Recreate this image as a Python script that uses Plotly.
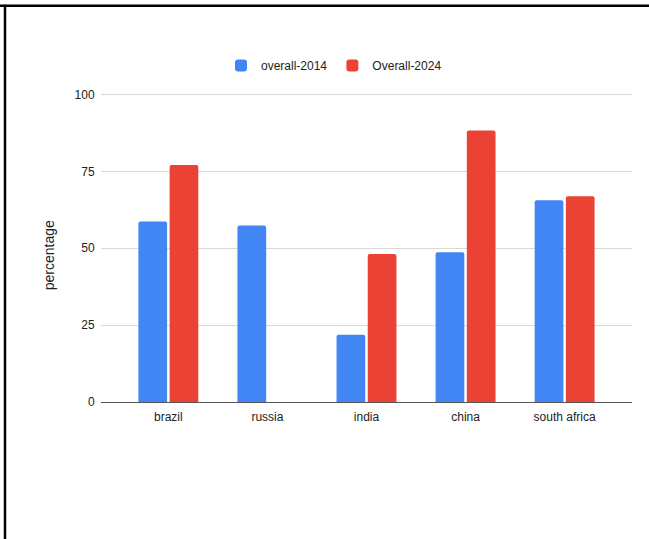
import plotly.graph_objects as go

# Categories and series values (percent)
countries = ["brazil", "russia", "india", "china", "south africa"]
overall_2014 = [58.7, 57.4, 21.9, 48.7, 65.6]
overall_2024 = [77.1, None, 48.1, 88.3, 66.9]
y_ticks = [0, 25, 50, 75, 100]

BLUE = "#4285F4"
RED = "#EA4335"
FONT = "Liberation Sans, Arial, sans-serif"

W, H = 649, 539
ML, MR, MT, MB = 101, 17, 92.5, 137
PW, PH = W - ML - MR, H - MT - MB


def px_to_paper_x(px):
    return (px - ML) / PW


def px_to_paper_y(py):
    return (H - MB - py) / PH


fig = go.Figure()
fig.add_trace(go.Bar(name="overall-2014", x=countries, y=overall_2014,
                     marker=dict(color=BLUE, line=dict(width=0))))
fig.add_trace(go.Bar(name="Overall-2024", x=countries, y=overall_2024,
                     marker=dict(color=RED, line=dict(width=0))))

fig.update_layout(
    width=W, height=H,
    margin=dict(l=ML, r=MR, t=MT, b=MB, autoexpand=False),
    paper_bgcolor="white", plot_bgcolor="white",
    font=dict(family=FONT, size=12, color="#222222"),
    barmode="group", bargap=0.37, bargroupgap=0.08, barcornerradius=2,
    showlegend=True,
    legend=dict(orientation="h", x=px_to_paper_x(334), xanchor="center",
                y=px_to_paper_y(65), yanchor="middle",
                font=dict(family=FONT, size=12, color="#222222"),
                itemwidth=30, bgcolor="rgba(0,0,0,0)"),
    xaxis=dict(range=[-0.68, 4.68], showgrid=False, zeroline=False,
               showline=False, ticks="outside", ticklen=4,
               tickcolor="rgba(0,0,0,0)", tickfont=dict(size=12, color="#222222"),
               fixedrange=True),
    yaxis=dict(range=[0, 100.5], tickvals=y_ticks, ticktext=[str(v) for v in y_ticks],
               showgrid=True, gridcolor="#d9d9d9", gridwidth=1,
               zeroline=True, zerolinecolor="#555555", zerolinewidth=1.2,
               showline=False, ticks="outside", ticklen=3,
               tickcolor="rgba(0,0,0,0)", tickfont=dict(size=12, color="#222222"),
               automargin=False, fixedrange=True),
    annotations=[
        dict(text="percentage", textangle=-90, showarrow=False,
             xref="paper", yref="paper",
             x=px_to_paper_x(49), y=px_to_paper_y(255),
             xanchor="center", yanchor="middle",
             font=dict(family=FONT, size=14, color="#222222")),
    ],
    shapes=[
        dict(type="line", xref="paper", yref="paper",
             x0=px_to_paper_x(0), x1=px_to_paper_x(W + 5),
             y0=px_to_paper_y(5), y1=px_to_paper_y(5),
             line=dict(color="black", width=2.5)),
        dict(type="line", xref="paper", yref="paper",
             x0=px_to_paper_x(5), x1=px_to_paper_x(5),
             y0=px_to_paper_y(4), y1=px_to_paper_y(H + 5),
             line=dict(color="black", width=2.5)),
    ],
)

fig.write_html("out.html", config={"displayModeBar": False})
